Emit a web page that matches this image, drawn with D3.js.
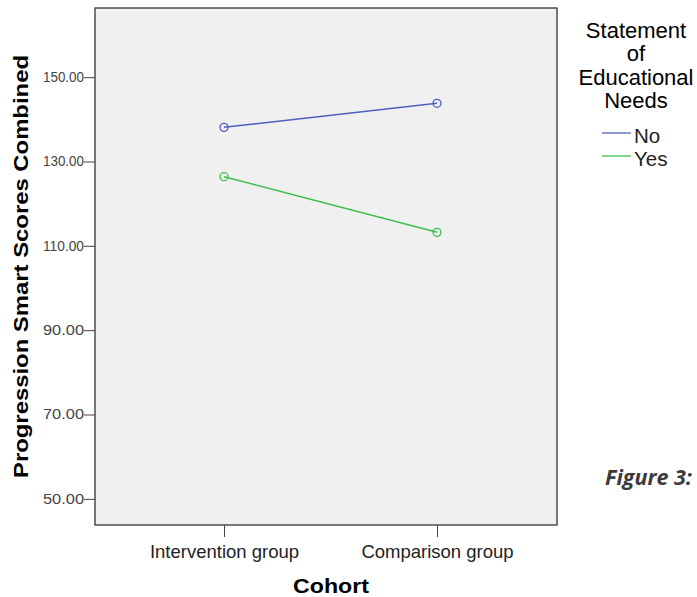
<!DOCTYPE html>
<html><head><meta charset="utf-8">
<script src="https://cdn.jsdelivr.net/npm/d3@7"></script>
<style>body{margin:0;background:#fff}svg{display:block}</style>
</head><body>
<svg id="c" width="697" height="597"></svg>
<script>
const categories = ["Intervention group", "Comparison group"];
const seriesNames = ["No", "Yes"];
const valuesNo = [138.1, 143.8];
const valuesYes = [126.4, 113.2];
const yTicks = [50, 70, 90, 110, 130, 150];
const colors = ["#4b61bf", "#3dbf4d"];

const FONT = "Arial, 'Liberation Sans', sans-serif";
const svg = d3.select("#c");
const L = 95, T = 8, R = 557, B = 525;
const x = d3.scalePoint().domain(categories).range([224, 437]).padding(0);
const y = d3.scaleLinear().domain([43.8, 166.4]).range([B, T]);

svg.append("rect").attr("x", L).attr("y", T).attr("width", R - L).attr("height", B - T)
  .attr("fill", "#f0f0f0").attr("stroke", "#333").attr("stroke-width", 1.3);

const ya = svg.append("g").attr("transform", `translate(${L},0)`)
  .call(d3.axisLeft(y).tickValues(yTicks).tickFormat(d3.format(".2f")).tickSize(11).tickPadding(0));
ya.select(".domain").remove();
ya.selectAll("line").attr("stroke", "#444");
ya.selectAll("text").attr("font-family", FONT).attr("font-size", 14).attr("fill", "#444")
  .attr("textLength", 41).attr("lengthAdjust", "spacingAndGlyphs");

const xa = svg.append("g").attr("transform", `translate(0,${B})`)
  .call(d3.axisBottom(x).tickSize(12).tickPadding(8));
xa.select(".domain").remove();
xa.selectAll("line").attr("stroke", "#444");
xa.selectAll("text").attr("font-family", FONT).attr("font-size", 18.5).attr("fill", "#222");

const series = [valuesNo, valuesYes];
const line = d3.line().x((d, i) => x(categories[i])).y(d => y(d));
series.forEach((vals, s) => {
  svg.append("path").attr("d", line(vals)).attr("fill", "none").attr("stroke", colors[s]).attr("stroke-width", 1.5);
  svg.selectAll(null).data(vals).enter().append("circle")
    .attr("cx", (d, i) => x(categories[i])).attr("cy", d => y(d)).attr("r", 4)
    .attr("fill", "none").attr("stroke", colors[s]).attr("stroke-width", 1.3);
});

svg.append("text").attr("transform", `translate(28,266.5) rotate(-90)`)
  .attr("text-anchor", "middle").attr("font-family", FONT)
  .attr("font-weight", "bold").attr("font-size", 20.5).attr("fill", "#000")
  .attr("textLength", 423).attr("lengthAdjust", "spacingAndGlyphs").text("Progression Smart Scores Combined");

svg.append("text").attr("x", 331).attr("y", 592.5).attr("text-anchor", "middle")
  .attr("font-family", FONT).attr("font-weight", "bold")
  .attr("font-size", 21).attr("fill", "#000")
  .attr("textLength", 76).attr("lengthAdjust", "spacingAndGlyphs").text("Cohort");

const titleLines = ["Statement", "of", "Educational", "Needs"];
titleLines.forEach((t, i) => {
  svg.append("text").attr("x", 636).attr("y", 38 + i * 23.4).attr("text-anchor", "middle")
    .attr("font-family", FONT).attr("font-size", 22).attr("fill", "#000").text(t);
});
seriesNames.forEach((n, i) => {
  const yy = 133 + i * 23;
  svg.append("line").attr("x1", 602).attr("x2", 631).attr("y1", yy).attr("y2", yy)
    .attr("stroke", colors[i]).attr("stroke-width", 1.5).attr("opacity", 0.85);
  svg.append("text").attr("x", 634).attr("y", yy + 9.5).attr("font-family", FONT)
    .attr("font-size", 20.5).attr("fill", "#222").text(n);
});

svg.append("text").attr("x", 605).attr("y", 485).attr("font-family", "'Open Sans', sans-serif")
  .attr("font-weight", "bold").attr("font-style", "italic").attr("font-size", 21.5).attr("fill", "#3a3a3a").text("Figure 3:");
</script>
</body></html>
